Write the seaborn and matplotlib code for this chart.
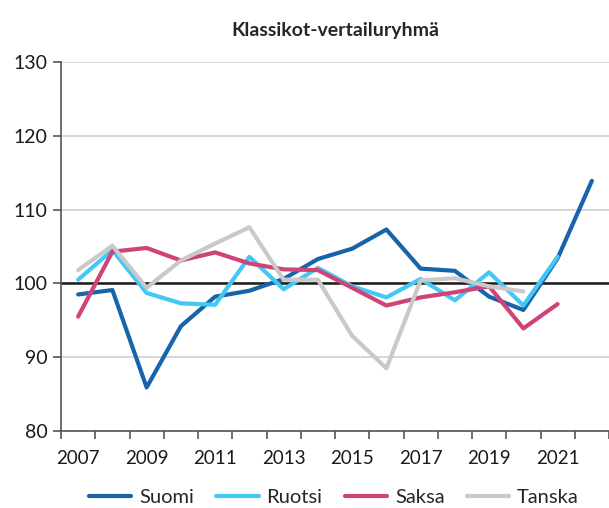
import pandas as pd
import matplotlib.pyplot as plt
import seaborn as sns

years = list(range(2007, 2023))
suomi = [98.5, 99.1, 85.9, 94.2, 98.2, 99.0, 100.6, 103.3, 104.7, 107.3, 102.0, 101.7, 98.2, 96.4, 103.4, 113.9]
ruotsi = [100.5, 104.5, 98.7, 97.3, 97.1, 103.6, 99.2, 102.1, 99.6, 98.1, 100.6, 97.7, 101.5, 97.0, 103.6]
saksa = [95.5, 104.3, 104.8, 103.1, 104.2, 102.7, 101.9, 101.8, 99.4, 97.0, 98.1, 98.8, 99.6, 93.9, 97.2]
tanska = [101.8, 105.1, 99.4, 103.1, 105.4, 107.6, 100.5, 100.5, 92.9, 88.5, 100.4, 100.7, 99.6, 98.9]

series = {'Suomi': suomi, 'Ruotsi': ruotsi, 'Saksa': saksa, 'Tanska': tanska}
colors = {'Suomi': '#1864AA', 'Ruotsi': '#43C8F5', 'Saksa': '#CF4477', 'Tanska': '#C9C9C9'}

rows = []
for name, vals in series.items():
    for y, v in zip(years, vals):
        rows.append({'Vuosi': y, 'Arvo': v, 'Maa': name})
df = pd.DataFrame(rows)

sns.set_theme(style="white")
plt.rcParams['font.family'] = ['Lato', 'DejaVu Sans']

fig = plt.figure(figsize=(6.09, 5.08), dpi=100)
ax = fig.add_axes([0.1002, 0.1516, 0.8998, 0.7264])

ax.yaxis.grid(True, color='#D0D0D0', linewidth=1.2)
ax.set_axisbelow(True)
ax.axhline(100, color='#1a1a1a', linewidth=1.8, zorder=1.5)

sns.lineplot(data=df, x='Vuosi', y='Arvo', hue='Maa', palette=colors,
             hue_order=list(series.keys()), linewidth=3, ax=ax, zorder=2)

ax.set_xlim(2006.5, 2022.5)
ax.set_ylim(80, 130)
ax.set_yticks(range(80, 131, 10))
ax.set_xticks([y - 0.5 for y in years] + [2022.5])
ax.set_xticklabels([])
ax.set_xticks(range(2007, 2022, 2), minor=True)
ax.set_xticklabels([str(y) for y in range(2007, 2022, 2)], minor=True)
ax.tick_params(axis='x', which='major', length=6, width=1.2, color='#555555', direction='out', bottom=True)
ax.tick_params(axis='x', which='minor', length=0, labelsize=13.5, pad=14, colors='#1a1a1a')
ax.tick_params(axis='y', length=6, width=1.2, color='#555555', direction='out', left=True,
               labelsize=14, colors='#1a1a1a')

for s in ['top', 'right']:
    ax.spines[s].set_visible(False)
for s in ['left', 'bottom']:
    ax.spines[s].set_color('#555555')
    ax.spines[s].set_linewidth(1.2)

ax.set_xlabel('')
ax.set_ylabel('')
ax.set_title('Klassikot-vertailuryhmä', fontsize=14, fontweight='bold', pad=19, x=0.5)

ax.legend(loc='center', bbox_to_anchor=(0.498, -0.179), ncol=4, frameon=False,
          fontsize=14.5, handlelength=2.1, columnspacing=1.1, handletextpad=0.4)

plt.savefig('out.png', dpi=100)
